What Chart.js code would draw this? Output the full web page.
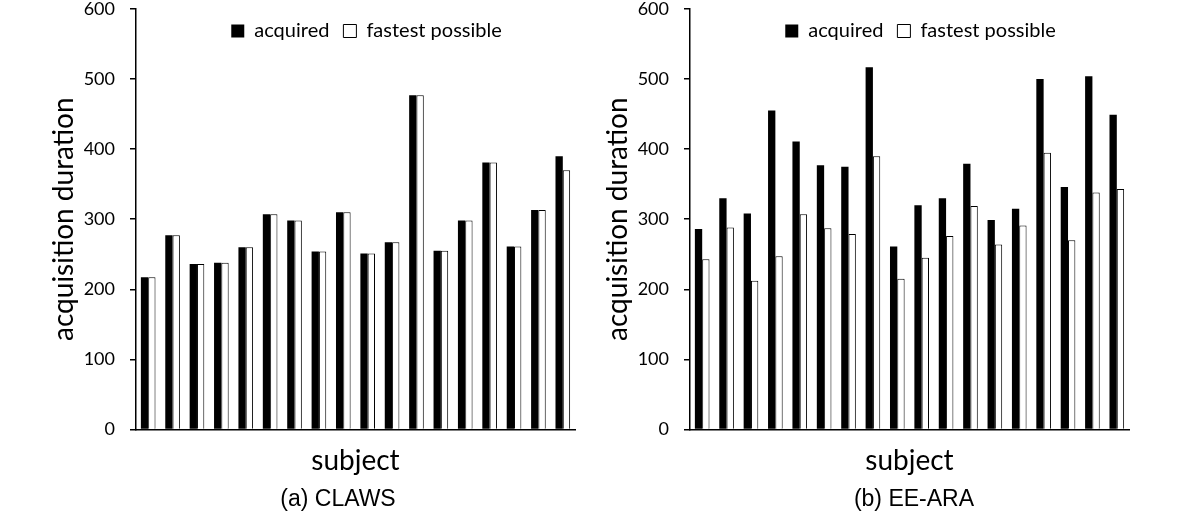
<!DOCTYPE html>
<html>
<head>
<meta charset="utf-8">
<script src="https://cdn.jsdelivr.net/npm/chart.js@4.4.1/dist/chart.umd.min.js"></script>
<style>
    html, body { margin: 0; padding: 0; background: #fff; overflow: hidden; }
    .panel   { position: absolute; top: 0; width: 600px; height: 529px; }
    .caption {
        position: absolute; top: 487px; width: 240px; text-align: center;
        font-family: 'Liberation Sans', Arial, sans-serif; font-size: 23px;
        line-height: 23px; color: #000;
    }
</style>
</head>
<body>

<div class="panel" style="left:0px"><canvas id="c1"></canvas></div>
<div class="panel" style="left:554px"><canvas id="c2"></canvas></div>
<div class="caption" style="left:218px">(a) CLAWS</div>
<div class="caption" style="left:794px">(b) EE-ARA</div>

<script>
/* ── Data ─────────────────────────────────────────────────── */
const subjects      = ['1','2','3','4','5','6','7','8','9','10','11','12','13','14','15','16','17','18'];
const seriesNames   = ['acquired', 'fastest possible'];
const yTicks        = [0, 100, 200, 300, 400, 500, 600];

const clawsAcquired = [217, 277, 236, 238, 260, 307, 298, 254, 310, 251, 267, 477, 255, 298, 381, 261, 313, 390];
const clawsFastest  = [217, 277, 236, 238, 260, 307, 298, 254, 310, 251, 267, 477, 255, 298, 381, 261, 313, 370];

const eearaAcquired = [286, 330, 308, 455, 411, 377, 375, 517, 261, 320, 330, 379, 299, 315, 500, 346, 504, 449];
const eearaFastest  = [243, 288, 212, 247, 307, 287, 279, 390, 215, 245, 276, 319, 264, 291, 395, 270, 338, 343];

document.addEventListener('DOMContentLoaded', function () {

    Chart.defaults.font.family = 'Lato';
    Chart.defaults.color       = '#000';

    /* ── Legend sits inside the plot area, like the Excel one ──
       it takes no room in the layout and is moved onto the
       top of the chart area once the layout is done.
    ─────────────────────────────────────────────────────────── */
    const legendInside = {
        id : 'legendInside',
        beforeInit (chart) {
            const fit = chart.legend.fit;
            chart.legend.fit = function () {
                fit.call(this);
                this.fullHeight = this.height;
                this.height = 0;
            };
        },
        afterLayout (chart) {
            const lg = chart.legend;
            lg.top     = chart.chartArea.top - 2;
            lg.bottom  = lg.top + lg.fullHeight;
            lg.left   += 11;
            lg.right  += 11;
        },
    };

    function makeChart (id, acquired, fastest) {
        return new Chart(document.getElementById(id), {
            type : 'bar',
            data : {
                labels   : subjects,
                datasets : [
                    {
                        label           : seriesNames[0],
                        data            : acquired,
                        backgroundColor : '#000',
                        borderColor     : '#000',
                        borderWidth     : 0,
                    },
                    {
                        label           : seriesNames[1],
                        data            : fastest,
                        backgroundColor : '#fff',
                        borderColor     : '#000',
                        borderWidth     : 1,
                    },
                ],
            },
            options : {
                responsive          : true,
                maintainAspectRatio : false,
                animation           : false,
                barPercentage       : 1.0,
                categoryPercentage  : 0.6,
                layout : { padding: { left: 47, right: 25, top: 0, bottom: 51 } },
                plugins : {
                    tooltip : { enabled: false },
                    legend  : {
                        position : 'top',
                        fullSize : false,
                        labels   : {
                            color     : '#000',
                            font      : { size: 20 },
                            boxWidth  : 13,
                            boxHeight : 13,
                            padding   : 14,
                        },
                    },
                },
                scales : {
                    x : {
                        grid   : { display: false },
                        border : { display: true, color: '#000', width: 1.5 },
                        ticks  : { display: false },
                        title  : {
                            display : true,
                            text    : 'subject',
                            color   : '#000',
                            font    : { size: 28 },
                            padding : { top: 7, bottom: 0 },
                        },
                    },
                    y : {
                        min  : 0,
                        max  : 600,
                        afterBuildTicks (axis) {
                            axis.ticks = yTicks.map(function (v) { return { value: v }; });
                        },
                        // fixed axis width, and no extra room above the 600 label
                        afterFit (axis) {
                            axis.width      = 89;
                            axis.paddingTop = 9;
                        },
                        grid : {
                            drawOnChartArea : false,
                            drawTicks       : true,
                            tickLength      : 6,
                            color           : '#000',
                            lineWidth       : 1.5,
                        },
                        border : { display: true, color: '#000', width: 1.5 },
                        ticks  : {
                            color   : '#000',
                            padding : 15,
                            font    : { size: 18, lineHeight: 1.0 },
                        },
                        title : {
                            display : true,
                            text    : 'acquisition duration',
                            color   : '#000',
                            font    : { size: 28 },
                            padding : { top: 0, bottom: 2 },
                        },
                    },
                },
            },
            plugins : [legendInside],
        });
    }

    makeChart('c1', clawsAcquired, clawsFastest);
    makeChart('c2', eearaAcquired, eearaFastest);

});
</script>
</body>
</html>
